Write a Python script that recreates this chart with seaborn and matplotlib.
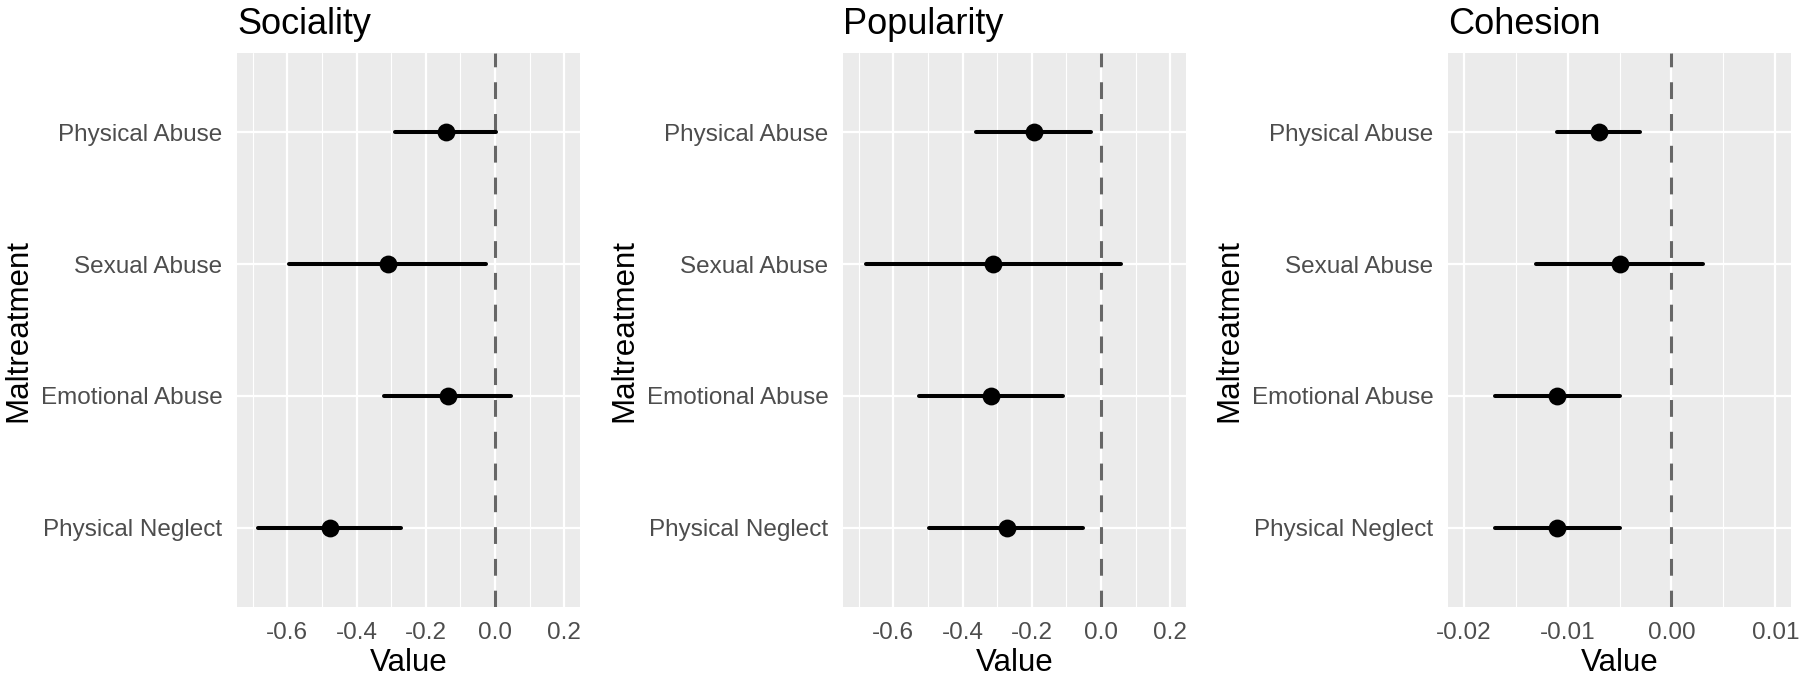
import numpy as np
import pandas as pd
import seaborn as sns
import matplotlib.pyplot as plt

# Estimates and 95% intervals
categories = ["Physical Abuse", "Sexual Abuse", "Emotional Abuse", "Physical Neglect"]

sociality_est = [-0.142, -0.308, -0.137, -0.478]
sociality_lo = [-0.289, -0.594, -0.320, -0.683]
sociality_hi = [0.003, -0.025, 0.047, -0.272]

popularity_est = [-0.195, -0.313, -0.318, -0.272]
popularity_lo = [-0.361, -0.679, -0.525, -0.496]
popularity_hi = [-0.030, 0.056, -0.111, -0.051]

cohesion_est = [-0.0070, -0.0050, -0.0110, -0.0110]
cohesion_lo = [-0.0110, -0.0130, -0.0170, -0.0170]
cohesion_hi = [-0.0030, 0.0030, -0.0050, -0.0050]

panels = [
    ("Sociality", sociality_est, sociality_lo, sociality_hi,
     (-0.745, 0.245), [-0.6, -0.4, -0.2, 0.0, 0.2], [-0.7, -0.5, -0.3, -0.1, 0.1], "{:.1f}"),
    ("Popularity", popularity_est, popularity_lo, popularity_hi,
     (-0.745, 0.245), [-0.6, -0.4, -0.2, 0.0, 0.2], [-0.7, -0.5, -0.3, -0.1, 0.1], "{:.1f}"),
    ("Cohesion", cohesion_est, cohesion_lo, cohesion_hi,
     (-0.0215, 0.0115), [-0.02, -0.01, 0.0, 0.01], [-0.015, -0.005, 0.005], "{:.2f}"),
]

sns.set_style("darkgrid", {"axes.facecolor": "#EBEBEB", "grid.color": "white"})
plt.rcParams["font.family"] = ["Liberation Sans", "DejaVu Sans"]

fig = plt.figure(figsize=(18, 6.79), dpi=100)
lefts = [237 / 1800, 843 / 1800, 1448 / 1800]
width = 343 / 1800
bottom = 1 - 607 / 679
height = (607 - 53) / 679

for left, (title, est, lo, hi, xlim, ticks, minor, fmt) in zip(lefts, panels):
    ax = fig.add_axes([left, bottom, width, height])
    # long table: lo / est / hi per category -> median gives the estimate, min/max the interval
    df = pd.DataFrame({
        "Maltreatment": categories * 3,
        "Value": lo + est + hi,
    })
    ax.axvline(0, color="#666666", lw=2.2, linestyle=(0, (5.5, 4.9)), zorder=1)
    sns.pointplot(data=df, x="Value", y="Maltreatment", order=categories,
                  estimator="median", errorbar=lambda v: (v.min(), v.max()),
                  linestyle="none", color="black", markersize=10.8,
                  err_kws={"linewidth": 2.9}, ax=ax, zorder=3)
    ax.set_xlim(*xlim)
    ax.set_ylim(3.6, -0.6)
    ax.set_xticks(ticks)
    ax.set_xticklabels([fmt.format(t) for t in ticks])
    ax.set_xticks(minor, minor=True)
    ax.grid(which="major", color="white", lw=1.6)
    ax.grid(which="minor", axis="x", color="white", lw=0.8)
    ax.set_axisbelow(True)
    for s in ax.spines.values():
        s.set_visible(False)
    ax.tick_params(axis="both", which="major", length=5, width=1.1, color="#333333",
                   labelcolor="#4D4D4D", labelsize=17.5, pad=5.5)
    ax.tick_params(axis="x", which="minor", length=0)
    ax.set_xlabel("Value", fontsize=22.5, color="black", labelpad=3)
    ax.set_ylabel("Maltreatment", fontsize=22.5, color="black", labelpad=5)
    ax.set_title(title, loc="left", fontsize=26, pad=14, color="black")

plt.savefig("out.png", dpi=100)
